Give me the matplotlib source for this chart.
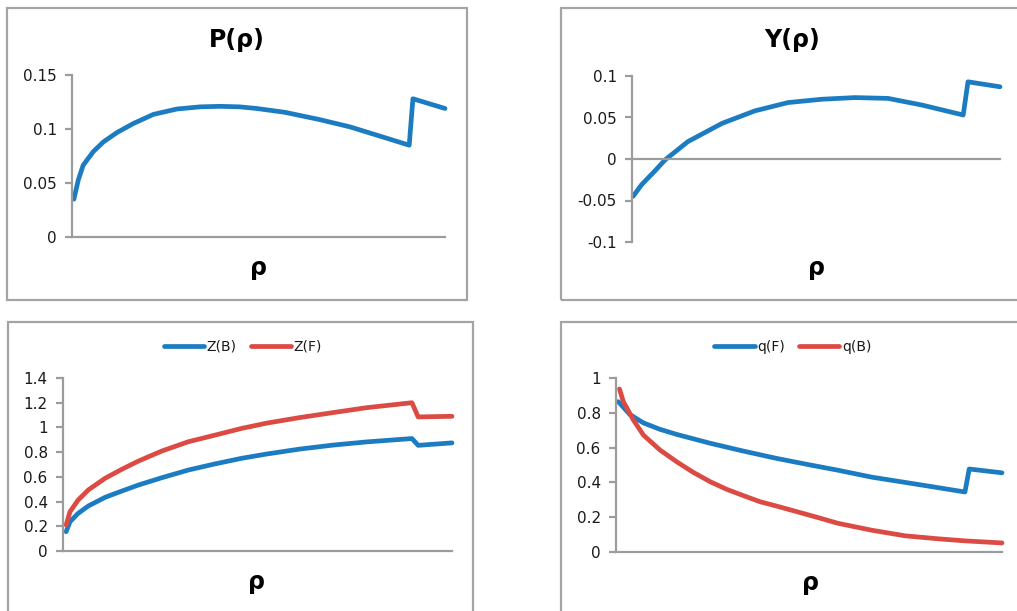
import matplotlib
matplotlib.use("Agg")
import matplotlib.pyplot as plt
from matplotlib.patches import Rectangle

# ---------------- data ----------------
rho_P = [0.005, 0.017, 0.030, 0.057, 0.084, 0.12, 0.164, 0.218, 0.281, 0.343, 0.397, 0.45, 0.495,
         0.57, 0.66, 0.745, 0.82, 0.904, 0.914, 1.0]
P_vals = [0.035, 0.053, 0.0665, 0.079, 0.088, 0.0966, 0.105, 0.1135, 0.1185, 0.1205, 0.121, 0.1205, 0.119,
          0.1155, 0.109, 0.102, 0.094, 0.085, 0.128, 0.119]

rho_Y = [0.003, 0.026, 0.063, 0.09, 0.152, 0.245, 0.334, 0.424, 0.516, 0.606, 0.696, 0.788, 0.90, 0.913, 1.0]
Y_vals = [-0.045, -0.031, -0.014, -0.001, 0.021, 0.043, 0.058, 0.068, 0.072, 0.074, 0.073, 0.065, 0.053, 0.093, 0.087]

rho_ZF = [0.008, 0.018, 0.039, 0.065, 0.108, 0.151, 0.194, 0.254, 0.322, 0.391, 0.459, 0.524,
          0.609, 0.694, 0.781, 0.897, 0.913, 1.0]
ZF_vals = [0.21, 0.318, 0.413, 0.494, 0.588, 0.661, 0.728, 0.809, 0.884, 0.938, 0.992, 1.035,
           1.08, 1.12, 1.16, 1.20, 1.085, 1.09]

rho_ZB = [0.008, 0.018, 0.039, 0.065, 0.108, 0.151, 0.194, 0.254, 0.322, 0.391, 0.459, 0.524,
          0.609, 0.694, 0.781, 0.897, 0.913, 1.0]
ZB_vals = [0.156, 0.237, 0.305, 0.364, 0.434, 0.485, 0.534, 0.593, 0.655, 0.705, 0.75, 0.785,
           0.825, 0.857, 0.883, 0.91, 0.855, 0.875]

rho_qF = [0.006, 0.036, 0.071, 0.114, 0.157, 0.244, 0.33, 0.416, 0.494, 0.575, 0.663, 0.749, 0.834,
          0.904, 0.915, 1.0]
qF_vals = [0.864, 0.79, 0.742, 0.705, 0.676, 0.625, 0.58, 0.538, 0.504, 0.47, 0.43, 0.40, 0.37,
           0.345, 0.477, 0.455]

rho_qB = [0.009, 0.019, 0.045, 0.071, 0.114, 0.157, 0.2, 0.244, 0.287, 0.33, 0.373, 0.416, 0.468,
          0.52, 0.575, 0.663, 0.749, 0.834, 0.904, 1.0]
qB_vals = [0.937, 0.864, 0.759, 0.672, 0.586, 0.519, 0.458, 0.404, 0.36, 0.324, 0.289, 0.264, 0.232,
           0.2, 0.165, 0.125, 0.093, 0.076, 0.064, 0.052]

P_ticks = [0, 0.05, 0.1, 0.15]
P_ticklabels = ["0", "0.05", "0.1", "0.15"]
Y_ticks = [-0.1, -0.05, 0, 0.05, 0.1]
Y_ticklabels = ["-0.1", "-0.05", "0", "0.05", "0.1"]
Z_ticks = [0, 0.2, 0.4, 0.6, 0.8, 1.0, 1.2, 1.4]
Z_ticklabels = ["0", "0.2", "0.4", "0.6", "0.8", "1", "1.2", "1.4"]
q_ticks = [0, 0.2, 0.4, 0.6, 0.8, 1.0]
q_ticklabels = ["0", "0.2", "0.4", "0.6", "0.8", "1"]

# ---------------- style ----------------
W, H = 1017, 611
BLUE = "#1c7cc2"
RED = "#dc4a44"
AXC = "#9c9c9c"
BOXC = "#a4a4a4"
LW = 3.4
TXT = "#1a1a1a"

fig = plt.figure(figsize=(W / 100, H / 100), dpi=100)


def fx(px):
    return px / W


def fy(py):
    return 1 - py / H


def box(x0, y0, x1, y1):
    fig.patches.append(Rectangle((fx(x0), fy(y1)), fx(x1) - fx(x0), fy(y0) - fy(y1),
                                 transform=fig.transFigure, fill=False,
                                 edgecolor=BOXC, linewidth=1.6, zorder=0))


def make_ax(left, right, top, bottom):
    ax = fig.add_axes([fx(left), fy(bottom), fx(right) - fx(left), fy(top) - fy(bottom)])
    for s in ("top", "right"):
        ax.spines[s].set_visible(False)
    for s in ("left", "bottom"):
        ax.spines[s].set_color(AXC)
        ax.spines[s].set_linewidth(1.6)
    ax.set_xticks([])
    ax.tick_params(axis="y", direction="out", length=5, width=1.6, color=AXC,
                   labelsize=11, pad=6, labelcolor=TXT)
    ax.set_xlim(0, 1)
    ax.patch.set_alpha(0)
    return ax


def curve(ax, x, y, c):
    ln, = ax.plot(x, y, color=c, lw=LW, solid_capstyle="round",
                  solid_joinstyle="round", clip_on=False)
    return ln


def label(x, y, s):
    fig.text(fx(x), fy(y), s, ha="center", va="center", fontsize=17,
             fontweight="bold", color="black")


# boxes
box(7, 8, 467, 300)
box(561, 8, 1030, 300)
box(8, 322, 473, 640)
box(561, 322, 1030, 640)

# Panel 1: P(rho)
ax1 = make_ax(72, 445, 75, 237)
curve(ax1, rho_P, P_vals, BLUE)
ax1.set_ylim(0, 0.15)
ax1.set_yticks(P_ticks)
ax1.set_yticklabels(P_ticklabels)
label(237, 40, "P(ρ)")
label(258, 268, "ρ")

# Panel 2: Y(rho)
ax2 = make_ax(632, 1000, 76, 242)
curve(ax2, rho_Y, Y_vals, BLUE)
ax2.set_ylim(-0.1, 0.1)
ax2.set_yticks(Y_ticks)
ax2.set_yticklabels(Y_ticklabels)
ax2.spines["bottom"].set_position(("data", 0))
label(792, 40, "Y(ρ)")
label(816, 268, "ρ")

# Panel 3: Z
ax3 = make_ax(63, 452, 378, 551)
lzb = curve(ax3, rho_ZB, ZB_vals, BLUE)
lzf = curve(ax3, rho_ZF, ZF_vals, RED)
ax3.set_ylim(0, 1.4)
ax3.set_yticks(Z_ticks)
ax3.set_yticklabels(Z_ticklabels)
leg3 = fig.legend([lzb, lzf], ["Z(B)", "Z(F)"], loc="center", bbox_to_anchor=(fx(243), fy(347)),
                  ncol=2, frameon=False, fontsize=10, handlelength=2.9, handletextpad=0.2,
                  columnspacing=1.0, labelcolor=TXT)
label(257, 582, "ρ")

# Panel 4: q
ax4 = make_ax(616, 1002, 378, 552)
lqf = curve(ax4, rho_qF, qF_vals, BLUE)
lqb = curve(ax4, rho_qB, qB_vals, RED)
ax4.set_ylim(0, 1.0)
ax4.set_yticks(q_ticks)
ax4.set_yticklabels(q_ticklabels)
leg4 = fig.legend([lqf, lqb], ["q(F)", "q(B)"], loc="center", bbox_to_anchor=(fx(793), fy(347)),
                  ncol=2, frameon=False, fontsize=10, handlelength=2.9, handletextpad=0.2,
                  columnspacing=1.0, labelcolor=TXT)
label(810, 583, "ρ")

fig.savefig("out.png", dpi=100)
